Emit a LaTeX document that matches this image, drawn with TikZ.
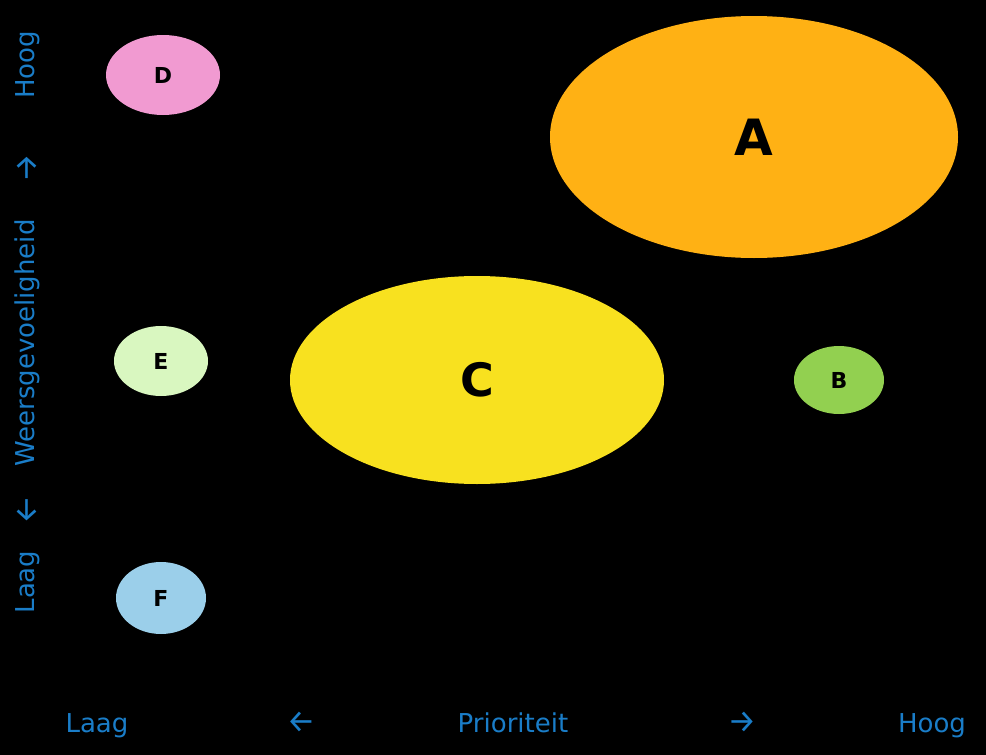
\documentclass[tikz,border=0pt]{standalone}
\usepackage{fontspec}
\setmainfont{DejaVu Sans}
\newfontfamily\arrowfont{Fira Sans}
\usetikzlibrary{shapes.geometric}
\definecolor{axisblue}{RGB}{26,125,200}
\definecolor{fillA}{RGB}{255,177,20}
\definecolor{fillB}{RGB}{146,208,80}
\definecolor{fillC}{RGB}{248,225,31}
\definecolor{fillD}{RGB}{241,154,209}
\definecolor{fillE}{RGB}{217,247,192}
\definecolor{fillF}{RGB}{155,207,234}
\begin{document}
\begin{tikzpicture}[x=0.5pt,y=-0.5pt,
  blob/.style={ellipse,inner sep=0pt,font=\bfseries\fontsize{11}{11}\selectfont},
  axislbl/.style={text=axisblue,font=\fontsize{13}{13}\selectfont,inner sep=0pt,anchor=base},
  axisarrow/.style={text=axisblue,inner sep=0pt,font=\arrowfont\fontsize{16}{16}\selectfont}]
\fill[black] (0,0) rectangle (986,755);
\useasboundingbox (0,0) rectangle (986,755);
% kansen
\node[blob,fill=fillA,minimum width=204pt,minimum height=121pt,font=\bfseries\fontsize{25}{25}\selectfont] (A) at (754,137) {A};
\node[blob,fill=fillC,minimum width=187pt,minimum height=104pt,font=\bfseries\fontsize{23}{23}\selectfont] (C) at (477,380) {C};
\node[blob,fill=fillD,minimum width=57pt,minimum height=40pt] (D) at (163,75) {D};
\node[blob,fill=fillE,minimum width=47pt,minimum height=35pt] (E) at (161,361) {E};
\node[blob,fill=fillB,minimum width=45pt,minimum height=34pt] (B) at (839,380) {B};
\node[blob,fill=fillF,minimum width=45pt,minimum height=36pt] (F) at (161,598) {F};
% assen
\node[axislbl] (xlo) at (97,732) {Laag};
\node[axisarrow] (xla) at (301,722) {←};
\node[axislbl] (xname) at (513,732) {Prioriteit};
\node[axisarrow] (xra) at (742,722) {→};
\node[axislbl] (xhi) at (932,732) {Hoog};
\node[axislbl,rotate=90] (ylo) at (34,582) {Laag};
\node[axisarrow,rotate=90] (yda) at (27,510) {←};
\node[axislbl,rotate=90] (yname) at (34,343) {Weersgevoeligheid};
\node[axisarrow,rotate=90] (yua) at (27,168) {→};
\node[axislbl,rotate=90] (yhi) at (34,65) {Hoog};
\end{tikzpicture}
\end{document}
